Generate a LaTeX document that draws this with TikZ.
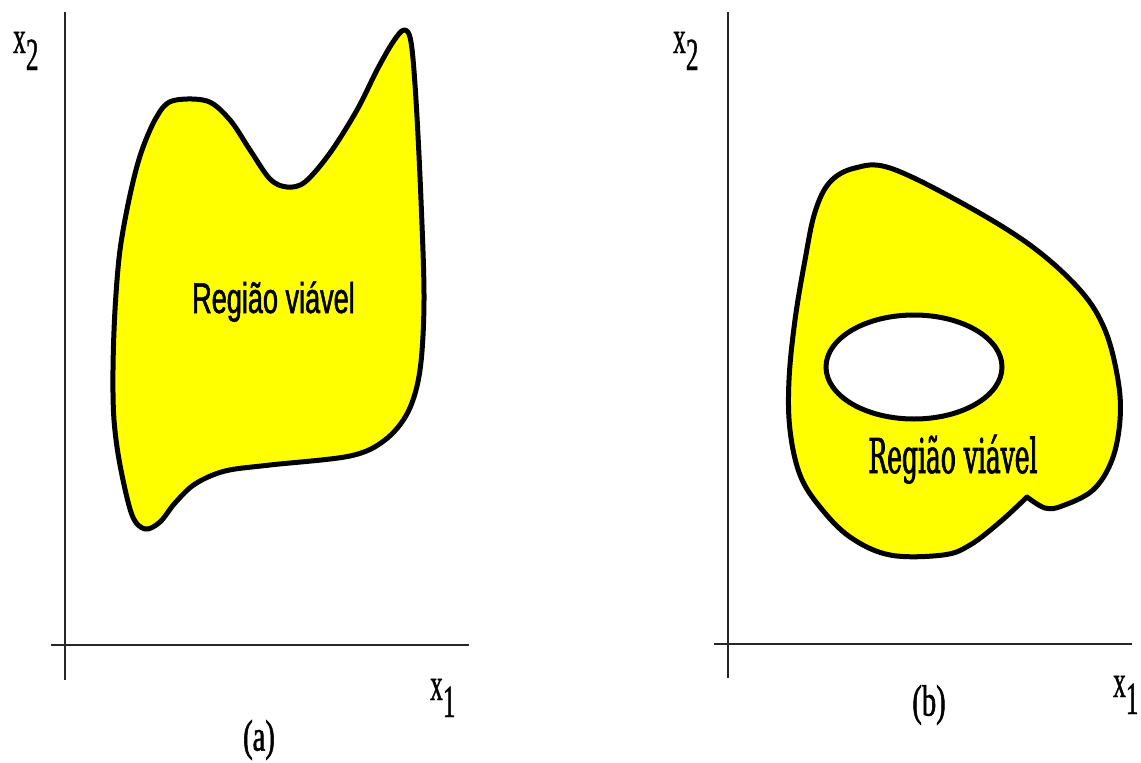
\documentclass[tikz,border=0pt]{standalone}
\usepackage{fontspec}
\usetikzlibrary{shapes.geometric}
\definecolor{regyellow}{RGB}{255,255,0}
\newfontfamily\regsans[FakeStretch=0.63,FakeBold=1.2]{Liberation Sans}
\newfontfamily\regserif[FakeStretch=0.52,FakeBold=1.5]{DejaVu Serif}
\newfontfamily\axfont[FakeStretch=0.55,FakeBold=0.8]{Liberation Serif}
\newfontfamily\capfont[FakeStretch=0.65,FakeBold=1.2]{Liberation Serif}
\begin{document}
\begin{tikzpicture}[x=1pt,y=-1pt,
  axis/.style={line width=1.8pt,black!85},
  region/.style={fill=regyellow,draw=black,line width=5pt,line join=round},
  hole/.style={fill=white,draw=black,line width=5pt},
  axlab/.style={anchor=base west,inner sep=0pt,font=\axfont\fontsize{46}{46}\selectfont},
  caplab/.style={inner sep=0pt,font=\capfont\fontsize{44}{44}\selectfont}]
\useasboundingbox[fill=white] (0,0) rectangle (1141,763);
% ---------- panel (a) ----------
\coordinate (aY0) at (65,680); \coordinate (aY1) at (65,12);
\coordinate (aX0) at (51,645); \coordinate (aX1) at (469,645);
\draw[axis] (aY0) -- (aY1);
\draw[axis] (aX0) -- (aX1);
\filldraw[region] plot[smooth cycle,tension=0.55] coordinates {
 (172,101) (207,101) (230,120) (250,150) (270,179) (287,187) (305,182)
 (330,153) (357,110) (377,70) (393,42) (404,30) (411,42) (416,100)
 (421,200) (424,300) (420,370) (408,412) (385,440) (350,456)
 (270,465) (225,471) (195,484) (175,503) (160,522) (145,529) (132,515)
 (120,465) (114,420) (113,370) (115,310) (120,250) (130,195) (141,153) (156,118)};
\node[inner sep=0pt,anchor=base,font=\regsans\fontsize{43}{43}\selectfont] (ra) at (273.5,313) {Região viável};
\node[axlab] (ax2) at (13,53) {x\raisebox{-17pt}{2}};
\node[axlab] (ax1) at (430,700) {x\raisebox{-17pt}{1}};
\node[caplab] (capa) at (259,740) {(a)};
% ---------- panel (b) ----------
\coordinate (bY0) at (728,678); \coordinate (bY1) at (728,12);
\coordinate (bX0) at (714,644); \coordinate (bX1) at (1132,644);
\draw[axis] (bY0) -- (bY1);
\draw[axis] (bX0) -- (bX1);
\filldraw[region] plot[smooth,tension=0.6] coordinates {
 (1027,497) (1045,508) (1062,506) (1093,490) (1112,460)
 (1120,420) (1118,380) (1105,330) (1080,290) (1030,245)
 (960,202) (890,168) (855,168) (830,182) (815,212)
 (805,260) (795,320) (789,380) (790,430) (800,475)
 (820,507) (850,537) (890,555) (943,555) (970,545) (1000,522) (1027,497)} -- cycle;
\node[hole,ellipse,minimum width=176pt,minimum height=104pt,inner sep=0pt] (holeb) at (914,367) {};
\node[inner sep=0pt,anchor=base,font=\regserif\fontsize{48}{48}\selectfont] (rb) at (953,473) {Região viável};
\node[axlab] (bx2) at (673,53) {x\raisebox{-17pt}{2}};
\node[axlab] (bx1) at (1113,697) {x\raisebox{-17pt}{1}};
\node[caplab] (capb) at (929,705) {(b)};
\end{tikzpicture}
\end{document}
